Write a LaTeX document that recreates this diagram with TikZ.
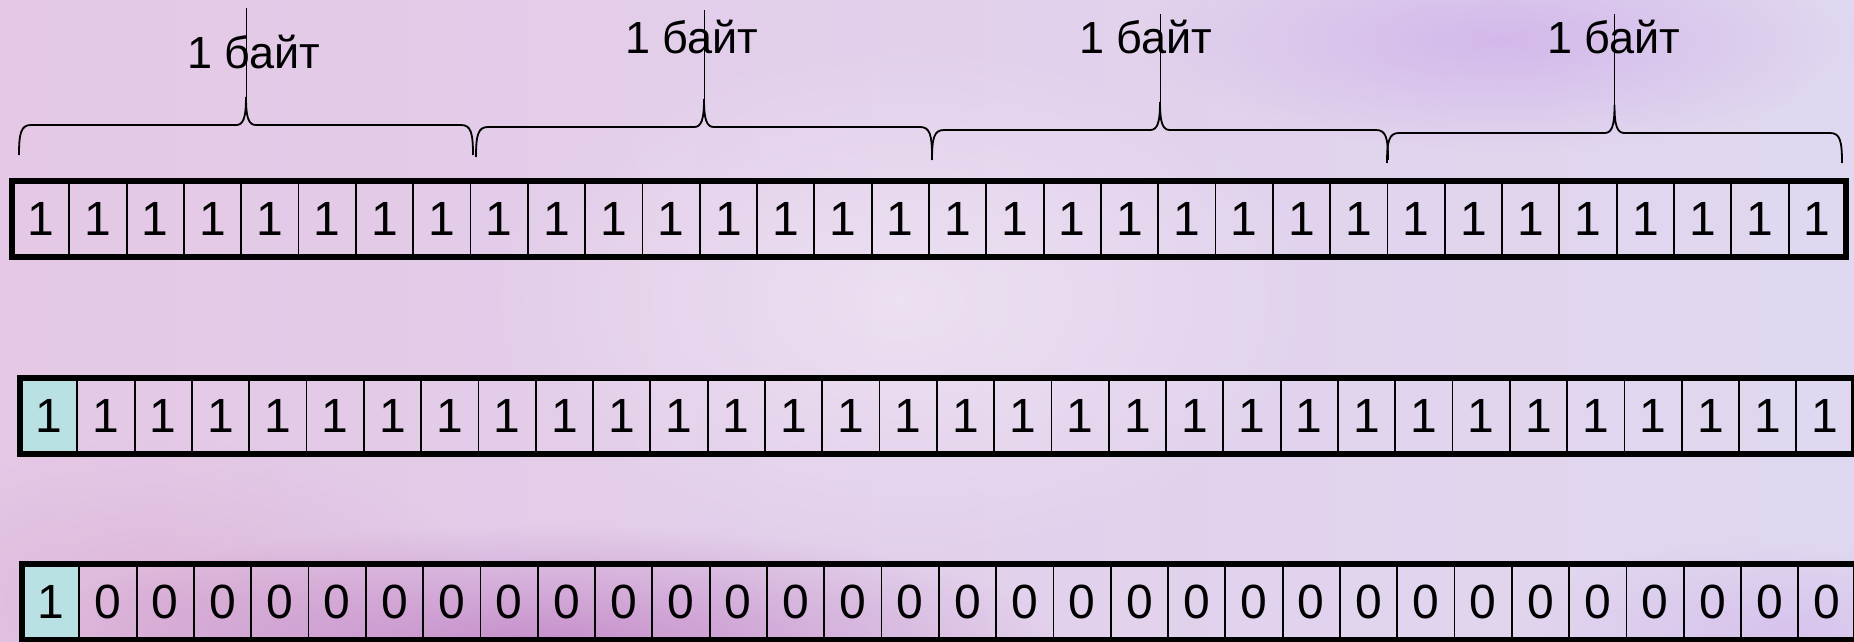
\documentclass[tikz,border=0pt]{standalone}
\usepackage{fontspec}
\newfontfamily\arialfont{Liberation Sans}
\usetikzlibrary{fadings}

\definecolor{signcyan}{RGB}{185,225,227}
\definecolor{bgleft}{RGB}{228,200,230}
\definecolor{bgright}{RGB}{224,216,240}
\definecolor{bgmauve}{RGB}{188,122,192}
\definecolor{bgpink}{RGB}{216,168,208}
\definecolor{bgviolet}{RGB}{202,166,232}

\tikzfading[name=softspot, inner color=transparent!0, outer color=transparent!100]

\newcommand{\bitfont}{\arialfont\fontsize{48}{52}\selectfont}
\newcommand{\bytefont}{\arialfont\fontsize{45}{50}\selectfont}

% brace over one byte: left, right, height of the bar, top of the stem
\newcommand{\bytebrace}[4]{%
    \pgfmathsetmacro{\bmid}{(#1+#2)/2}
    \draw[bracepath] (#1,#3+30) .. controls (#1,#3+8) and (#1+2,#3) .. (#1+12,#3)
        -- (\bmid-10,#3) .. controls (\bmid-3,#3) and (\bmid,#3-6) .. (\bmid,#3-28)
        .. controls (\bmid,#3-6) and (\bmid+3,#3) .. (\bmid+10,#3)
        -- (#2-12,#3) .. controls (#2-2,#3) and (#2,#3+8) .. (#2,#3+30);
    \draw[bracestem] (\bmid,#3-28) -- (\bmid,#4);
}

\begin{document}
\begin{tikzpicture}[
    x=1pt,
    y=-1pt,
    bit/.style={
        rectangle,
        draw=black,
        line width=1.8pt,
        minimum width=57.3pt,
        minimum height=76pt,
        inner sep=0pt,
        outer sep=0pt,
        font=\bitfont
    },
    signbit/.style={bit, fill=signcyan},
    wordframe/.style={draw=black, line width=6pt},
    bracepath/.style={draw=black, line width=1.8pt},
    bracestem/.style={draw=black, line width=0.9pt},
    bytelabel/.style={font=\bytefont, anchor=base, inner sep=0pt}
]
    \useasboundingbox (0,0) rectangle (1854,642);

    % background
    \shade[left color=bgleft, right color=bgright] (0,0) rectangle (1854,642);
    \fill[white, opacity=0.35, path fading=softspot] (900,300) ellipse (420 and 260);
    \fill[bgpink, opacity=0.55, path fading=softspot] (160,600) ellipse (320 and 160);
    \fill[bgmauve, opacity=0.75, path fading=softspot] (540,645) ellipse (520 and 120);
    \fill[bgviolet, opacity=0.6, path fading=softspot] (1500,40) ellipse (360 and 110);
    \fill[bgviolet, opacity=0.4, path fading=softspot] (1780,630) ellipse (260 and 90);

    % braces and labels
    \bytebrace{19}{473}{125}{8}
    \bytebrace{476}{932}{127}{10}
    \bytebrace{932}{1388}{130}{14}
    \bytebrace{1387}{1842}{133}{14}
    \node[bytelabel] (byte1) at (254,68) {1 байт};
    \node[bytelabel] (byte2) at (692,53) {1 байт};
    \node[bytelabel] (byte3) at (1146,53) {1 байт};
    \node[bytelabel] (byte4) at (1614,53) {1 байт};

    % first word: all ones
    \foreach \i in {1,...,32}
        \node[bit] (a\i) at ({12+(\i-0.5)*57.31},219) {1};
    \draw[wordframe] (a1.north west) rectangle (a32.south east);

    % second word: sign bit marked
    \node[signbit] (b1) at ({20+0.5*57.3},416) {1};
    \foreach \i in {2,...,32}
        \node[bit] (b\i) at ({20+(\i-0.5)*57.3},416) {1};
    \draw[wordframe] (b1.north west) rectangle (b32.south east);

    % third word: sign bit and zeros
    \node[signbit] (c1) at ({22+0.5*57.3},601.5) {1};
    \foreach \i in {2,...,32}
        \node[bit] (c\i) at ({22+(\i-0.5)*57.3},601.5) {0};
    \draw[wordframe] (c1.north west) rectangle (c32.south east);
\end{tikzpicture}
\end{document}
